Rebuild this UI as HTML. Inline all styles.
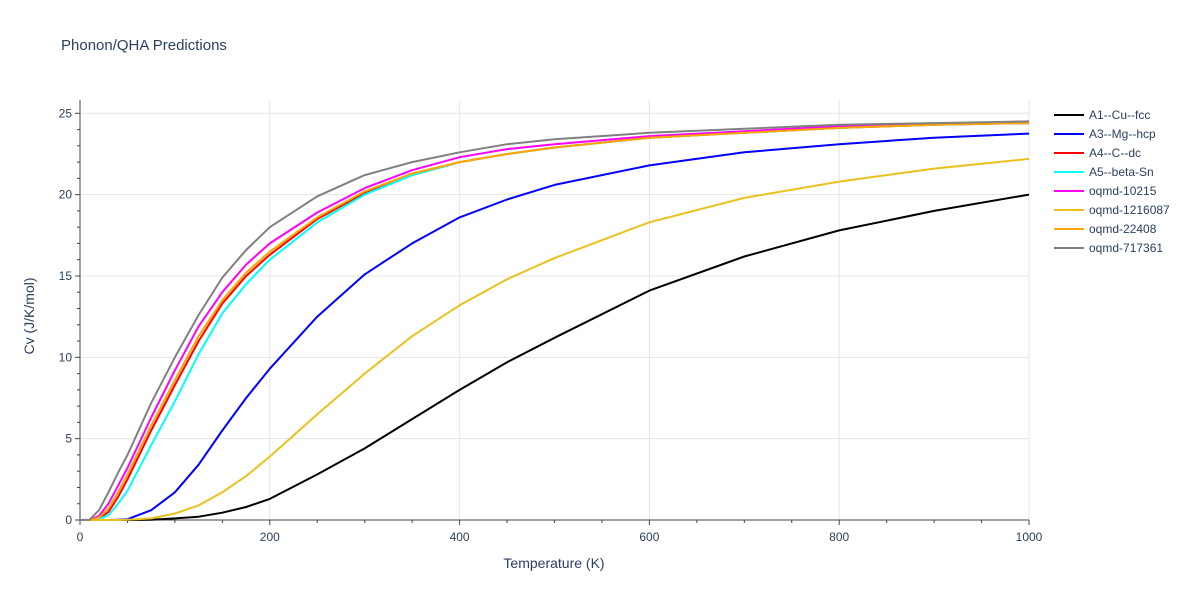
<!DOCTYPE html>
<html><head><meta charset="utf-8"><style>
body{margin:0;background:#fff;font-family:"Liberation Sans",sans-serif;}
svg text{font-family:"Liberation Sans",sans-serif;fill:#2a3f5f;}
</style></head><body>
<svg id="chart" width="1200" height="600">
<text x="61" y="50" font-size="15">Phonon/QHA Predictions</text>
<g id="grid"></g><g id="axes"></g><g id="series"></g><g id="legend"></g>
<text x="554" y="568" font-size="14" text-anchor="middle">Temperature (K)</text>
<text x="34" y="316" font-size="14" text-anchor="middle" transform="rotate(-90 34 316)">Cv (J/K/mol)</text>
</svg>
<script>
const temps=[0,10,20,30,40,50,75,100,125,150,175,200,250,300,350,400,450,500,600,700,800,900,1000];
const names=["A1--Cu--fcc","A3--Mg--hcp","A4--C--dc","A5--beta-Sn","oqmd-10215","oqmd-1216087","oqmd-22408","oqmd-717361"];
const colors=["#000000","#0000ff","#ff0000","#00ffff","#ff00ff","#ebc11c","#ffa500","#808080"];
const cuVals=[0,0,0,0,0,0,0.02,0.1,0.2,0.45,0.8,1.3,2.8,4.4,6.2,8.0,9.7,11.2,14.1,16.2,17.8,19.0,20.0];
const mgVals=[0,0,0,0,0.02,0.05,0.6,1.7,3.4,5.5,7.5,9.3,12.5,15.1,17.0,18.6,19.7,20.6,21.8,22.6,23.1,23.5,23.75];
const cVals=[0,0,0.1,0.5,1.4,2.5,5.5,8.3,11.0,13.3,15.0,16.3,18.5,20.1,21.2,22.0,22.5,22.9,23.5,23.8,24.1,24.3,24.4];
const snVals=[0,0,0.05,0.3,1.0,1.8,4.6,7.3,10.2,12.7,14.5,16.0,18.3,20.0,21.2,22.0,22.5,22.9,23.5,23.8,24.1,24.3,24.4];
const q10215Vals=[0,0,0.25,1.0,2.1,3.2,6.3,9.2,11.9,14.0,15.7,17.0,18.9,20.4,21.5,22.3,22.8,23.1,23.6,23.9,24.2,24.35,24.5];
const q1216087Vals=[0,0,0,0,0,0.02,0.1,0.4,0.9,1.7,2.7,3.9,6.5,9.0,11.3,13.2,14.8,16.1,18.3,19.8,20.8,21.6,22.2];
const q22408Vals=[0,0,0.15,0.7,1.7,2.8,5.8,8.6,11.3,13.5,15.2,16.5,18.6,20.2,21.3,22.0,22.5,22.9,23.5,23.8,24.1,24.3,24.4];
const q717361Vals=[0,0.02,0.6,1.7,2.9,4.0,7.2,10.0,12.6,14.9,16.6,18.0,19.9,21.2,22.0,22.6,23.1,23.4,23.8,24.05,24.3,24.4,24.5];
const seriesVals=[cuVals,mgVals,cVals,snVals,q10215Vals,q1216087Vals,q22408Vals,q717361Vals];
const xTicks=[0,200,400,600,800,1000];
const yTicks=[0,5,10,15,20,25];
const NS="http://www.w3.org/2000/svg";
const X0=80,X1=1029,Y0=520,Y25=113.3;
const xs=t=>X0+(X1-X0)*t/1000;
const ys=v=>Y0-(Y0-Y25)*v/25;
function mk(tag,attrs,parent){const e=document.createElementNS(NS,tag);for(const k in attrs)e.setAttribute(k,attrs[k]);parent.appendChild(e);return e;}
const grid=document.getElementById('grid'),axes=document.getElementById('axes'),ser=document.getElementById('series'),leg=document.getElementById('legend');
xTicks.forEach(t=>{if(t>0){const l=mk('line',{x1:xs(t),x2:xs(t),y1:100,y2:Y0,stroke:'#e5e5e5','stroke-width':1},grid);

}
const tx=mk('text',{x:xs(t),y:541,'font-size':12,'text-anchor':'middle'},axes);tx.textContent=t;

});
for(let t=0;t<=1000;t+=50){mk('line',{x1:xs(t),x2:xs(t),y1:Y0,y2:Y0+(t%200===0?5:3),stroke:'#444','stroke-width':1},axes);}
yTicks.forEach(v=>{if(v>0){const l=mk('line',{x1:X0,x2:X1,y1:ys(v),y2:ys(v),stroke:'#e5e5e5','stroke-width':1},grid);

}
const tx=mk('text',{x:72,y:ys(v)+4,'font-size':12,'text-anchor':'end'},axes);tx.textContent=v;

});
for(let v=0;v<=25;v++){mk('line',{x1:X0,x2:X0-(v%5===0?5:3),y1:ys(v),y2:ys(v),stroke:'#444','stroke-width':1},axes);}
mk('line',{x1:X0,x2:X0,y1:100,y2:Y0,stroke:'#444','stroke-width':1},axes);
mk('line',{x1:X0,x2:X1,y1:Y0,y2:Y0,stroke:'#444','stroke-width':1},axes);
seriesVals.forEach((vals,i)=>{
const p=mk('polyline',{points:vals.map((v,j)=>xs(temps[j]).toFixed(1)+','+ys(v).toFixed(1)).join(' '),fill:'none',stroke:colors[i],'stroke-width':2,'stroke-linejoin':'round'},ser);


const y=115+19*i;
const g=mk('g',{},leg);


mk('line',{x1:1054,x2:1084,y1:y,y2:y,stroke:colors[i],'stroke-width':2},g);
const tx=mk('text',{x:1089,y:y+4,'font-size':12},g);tx.textContent=names[i];
});
</script>
</body></html>
